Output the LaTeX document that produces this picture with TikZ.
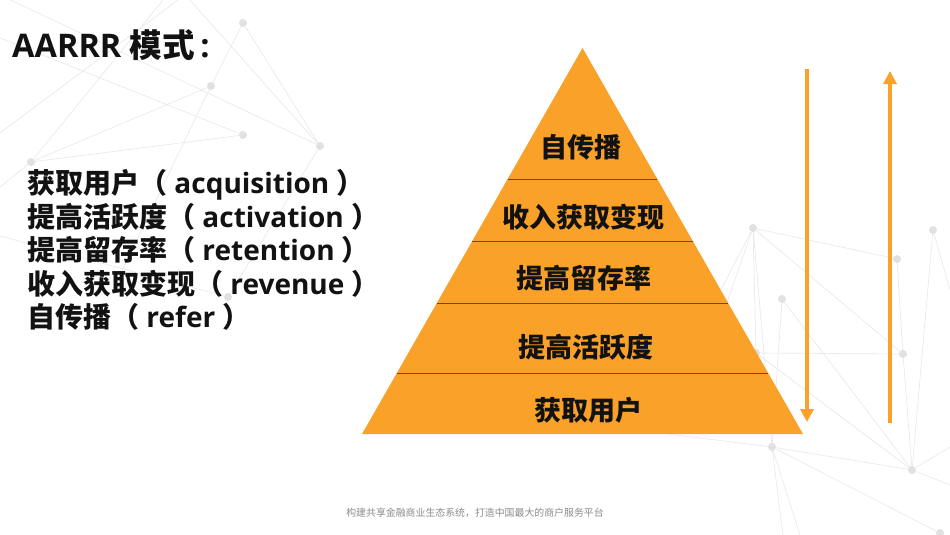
\documentclass[tikz,border=0pt]{standalone}
\usepackage{fontspec}
\setmainfont{Open Sans}
\newfontfamily\cjk{Noto Sans CJK SC}
\usetikzlibrary{arrows.meta,calc}
\definecolor{org}{RGB}{249,161,41}
\definecolor{divc}{RGB}{120,72,18}
\definecolor{netline}{RGB}{233,233,233}
\definecolor{netdot}{RGB}{225,225,225}
\definecolor{foot}{RGB}{140,140,140}
\definecolor{ink}{RGB}{18,18,18}
\tikzset{
  netedge/.style={draw=netline, line width=0.65pt},
  netdot/.style={circle, fill=netdot, inner sep=0pt, minimum size=8pt},
  divider/.style={draw=divc, line width=0.9pt},
  flow/.style={draw=org, line width=4.3pt, -{Triangle[width=13pt,length=13pt]}},
  pyrlabel/.style={inner sep=0pt, anchor=center, text=ink, font=\cjk\bfseries\fontsize{27}{27}\selectfont},
  listtxt/.style={inner sep=0pt, anchor=base west, text=ink, font=\bfseries\fontsize{28}{28}\selectfont},
  titletxt/.style={inner sep=0pt, anchor=base west, text=ink, font=\bfseries\fontsize{32.5}{32.5}\selectfont},
  foottxt/.style={inner sep=0pt, anchor=center, text=foot, font=\cjk\fontsize{9.9}{10}\selectfont}
}
\begin{document}
\begin{tikzpicture}[x=1pt,y=-1pt]
\fill[white] (0,0) rectangle (950,535);
\useasboundingbox (0,0) rectangle (950,535);

% ---------- background network (left) ----------
\node[netdot] (L1) at (243,23) {};
\node[netdot] (L2) at (211,86) {};
\node[netdot] (L3) at (243,135) {};
\node[netdot] (L4) at (320,146) {};
\node[netdot] (L5) at (31,162) {};
\node[netdot] (L6) at (228,297) {};
\coordinate (E1) at (190,0);
\coordinate (E2) at (163,0);
\coordinate (E3) at (0,38);
\coordinate (E4) at (0,-5);
\coordinate (E5) at (120,275);
\coordinate (E6) at (0,187);
\coordinate (E7) at (0,236);
\coordinate (E8) at (178,0);
\coordinate (E9) at (0,133);
\draw[netedge] (E2) -- (L5);
\draw[netedge] (E1) -- (L4);
\draw[netedge] (L1) -- (L4);
\draw[netedge] (L1) -- (L2);
\draw[netedge] (L2) -- (E5);
\draw[netedge] (L5) -- (L2);
\draw[netedge] (L5) -- (L3);
\draw[netedge] (E3) -- (L3);
\draw[netedge] (E4) -- (L4);
\draw[netedge] (L5) -- (E6);
\draw[netedge] (L4) -- (L6);
\draw[netedge] (E7) -- (L6);
\draw[netedge] (E8) -- (E9);

% ---------- background network (right) ----------
\node[netdot] (R1) at (753,228) {};
\node[netdot] (R2) at (782,299) {};
\node[netdot] (R3) at (897,259) {};
\node[netdot] (R4) at (933,230) {};
\node[netdot] (R5) at (903,354) {};
\node[netdot] (R6) at (772,447) {};
\node[netdot] (R7) at (912,470) {};
\node[netdot] (R8) at (940,533) {};
\node[netdot] (R9) at (756,353) {};
\coordinate (F1) at (950,290);
\coordinate (F2) at (783,535);
\coordinate (F3) at (800,535);
\coordinate (F4) at (950,447);
\coordinate (F5) at (950,485);
\coordinate (F6) at (620,428);
\coordinate (F7) at (700,330);
\coordinate (F8) at (712,345);
\draw[netedge] (R1) -- (R3);
\draw[netedge] (R1) -- (R5);
\draw[netedge] (R1) -- (R9);
\draw[netedge] (R1) -- (R6);
\draw[netedge] (R1) -- (F7);
\draw[netedge] (R1) -- (F8);
\draw[netedge] (R2) -- (R6);
\draw[netedge] (R2) -- (R7);
\draw[netedge] (R9) -- (R5);
\draw[netedge] (R9) -- (R7);
\draw[netedge] (R3) -- (R5);
\draw[netedge] (R5) -- (R7);
\draw[netedge] (R4) -- (R7);
\draw[netedge] (R4) -- (F1);
\draw[netedge] (R6) -- (R7);
\draw[netedge] (R6) -- (R8);
\draw[netedge] (R6) -- (F2);
\draw[netedge] (R6) -- (F3);
\draw[netedge] (R6) -- (F6);
\draw[netedge] (R7) -- (F4);
\draw[netedge] (R7) -- (F5);

% ---------- title and list ----------
\node[titletxt] (title) at (12,57) {AARRR {\cjk 模式}\,:};
\node[listtxt] (l1) at (27,193.5) {{\cjk 获取用户（} acquisition {\cjk ）}};
\node[listtxt] (l2) at (27,227) {{\cjk 提高活跃度（} activation {\cjk ）}};
\node[listtxt] (l3) at (27,260.5) {{\cjk 提高留存率（} retention {\cjk ）}};
\node[listtxt] (l4) at (27,294) {{\cjk 收入获取变现（} revenue {\cjk ）}};
\node[listtxt] (l5) at (27,327.5) {{\cjk 自传播（} refer {\cjk ）}};

% ---------- pyramid ----------
\coordinate (PA) at (582.5,48);
\coordinate (PL) at (362,434);
\coordinate (PR) at (803,434);
\fill[org] (PA) -- (PL) -- (PR) -- cycle;
\draw[divider] ($(PA)!0.3394!(PL)$) -- ($(PA)!0.3394!(PR)$);
\draw[divider] ($(PA)!0.5!(PL)$) -- ($(PA)!0.5!(PR)$);
\draw[divider] ($(PA)!0.6606!(PL)$) -- ($(PA)!0.6606!(PR)$);
\draw[divider] ($(PA)!0.8420!(PL)$) -- ($(PA)!0.8420!(PR)$);
\node[pyrlabel] (p5) at (581,147) {自传播};
\node[pyrlabel] (p4) at (583,217) {收入获取变现};
\node[pyrlabel] (p3) at (584,278) {提高留存率};
\node[pyrlabel] (p2) at (586,347) {提高活跃度};
\node[pyrlabel] (p1) at (588,410) {获取用户};

% ---------- arrows ----------
\coordinate (dTop) at (807,69);
\coordinate (dBot) at (807,422);
\coordinate (uBot) at (890,423);
\coordinate (uTop) at (890,71);
\draw[flow] (dTop) -- (dBot);
\draw[flow] (uBot) -- (uTop);

% ---------- footer ----------
\node[foottxt] (foot) at (475,513) {构建共享金融商业生态系统，打造中国最大的商户服务平台};
\end{tikzpicture}
\end{document}
